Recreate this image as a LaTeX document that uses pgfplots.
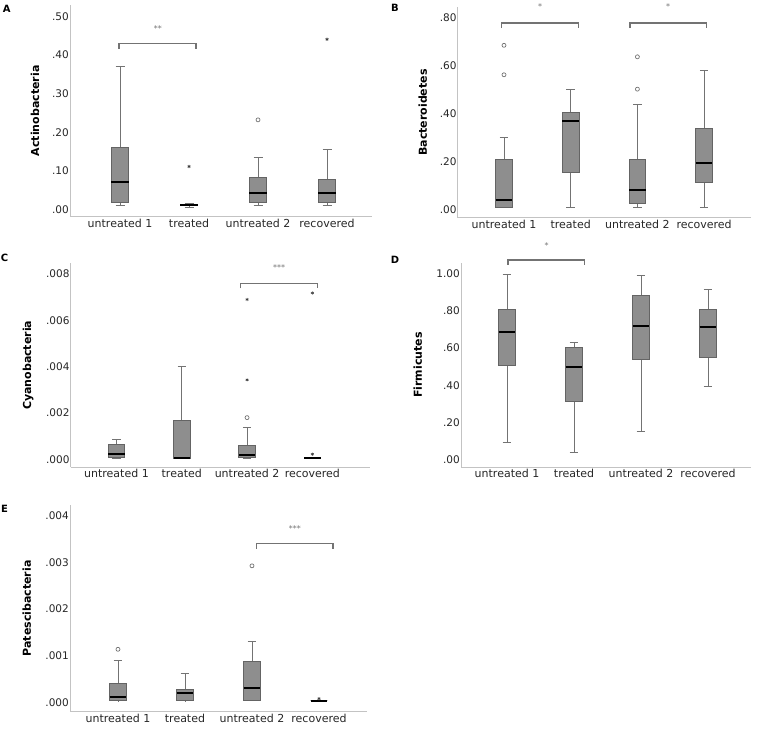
\documentclass[border=0pt]{standalone}
\usepackage{fontspec}
\setmainfont{DejaVu Sans}
\usepackage{pgfplots}
\pgfplotsset{compat=1.18}
\usepgfplotslibrary{statistics}

\definecolor{boxfill}{RGB}{142,142,142}
\definecolor{boxline}{RGB}{100,100,100}
\definecolor{whisk}{RGB}{115,115,115}
\definecolor{axisgray}{RGB}{195,195,195}

\tikzset{
  sig/.style={font=\fontsize{8}{8}\selectfont, text=black!55},
  letter/.style={font=\bfseries\fontsize{10}{10}\selectfont},
}

\pgfplotsset{
  spss/.style={
    anchor=south west,
    scale only axis,
    axis x line*=bottom, axis y line*=left,
    axis line style={axisgray, line width=1pt, -},
    major tick length=0pt,
    xtick={1,2,3,4},
    xticklabels={untreated 1, treated, untreated 2, recovered},
    xticklabel style={font=\fontsize{11}{13}\selectfont, text=black!85, inner ysep=2pt},
    yticklabel style={font=\fontsize{10.5}{12}\selectfont, text=black!85, inner xsep=1pt},
    clip=false,
    every axis y label/.style={rotate=90, anchor=center,
      font=\bfseries\fontsize{11}{13}\selectfont},
  },
  bx/.style={
    boxplot/draw direction=y,
    boxplot prepared={#1},
    boxplot/box extend=0.25,
    boxplot/whisker extend=0.13,
    solid, mark=none, draw=boxline, line width=0.8pt,
    boxplot/every box/.style={fill=boxfill, draw=boxline},
    boxplot/every whisker/.style={draw=whisk},
    boxplot/every median/.style={draw=black, line width=2pt},
  },
  circ/.style={only marks, mark=o, mark size=2pt, draw=whisk, line width=0.7pt},
  star/.style={only marks, mark=asterisk, mark size=1.6pt, draw=black!75, line width=0.6pt},
  brk/.style={draw=whisk, line width=1.2pt, mark=none},
}

\begin{document}
\begin{tikzpicture}
\useasboundingbox (0,0) rectangle (758pt,-730pt);

\node[letter] at (6.7pt,-9.3pt) {A};
\node[letter] at (395pt,-8.3pt) {B};
\node[letter] at (4.5pt,-258.3pt) {C};
\node[letter] at (395pt,-259.5pt) {D};
\node[letter] at (4.5pt,-509pt) {E};

% A: Actinobacteria
\begin{axis}[spss, at={(70pt,-216.7pt)}, width=302pt, height=211.7pt,
  xmin=0.275, xmax=4.652, ymin=-0.0192, ymax=0.530,
  ytick={0,0.1,0.2,0.3,0.4,0.5}, yticklabels={.00,.10,.20,.30,.40,.50},
  ylabel={Actinobacteria}, ylabel style={at={(axis description cs:-0.116,0.5)}}]
  \addplot[bx={draw position=1, lower whisker=0.009, lower quartile=0.018, median=0.070, upper quartile=0.160, upper whisker=0.371}] coordinates {};
  \addplot[bx={draw position=2, lower whisker=0.006, lower quartile=0.009, median=0.011, upper quartile=0.013, upper whisker=0.015}] coordinates {};
  \addplot[bx={draw position=3, lower whisker=0.009, lower quartile=0.018, median=0.043, upper quartile=0.082, upper whisker=0.135}] coordinates {};
  \addplot[bx={draw position=4, lower whisker=0.009, lower quartile=0.019, median=0.043, upper quartile=0.077, upper whisker=0.155}] coordinates {};
  \addplot[star] coordinates {(2,0.111) (4,0.441)};
  \addplot[circ] coordinates {(3,0.232)};
  \addplot[brk] coordinates {(0.986,0.416) (0.986,0.430) (2.10,0.430) (2.10,0.416)};
  \node[sig] at (axis cs:1.55,0.470) {**};
\end{axis}

% B: Bacteroidetes
\begin{axis}[spss, at={(457.7pt,-218pt)}, width=293.3pt, height=211pt,
  xmin=0.306, xmax=4.703, ymin=-0.036, ymax=0.845,
  ytick={0,0.2,0.4,0.6,0.8}, yticklabels={.00,.20,.40,.60,.80},
  ylabel={Bacteroidetes}, ylabel style={at={(axis description cs:-0.119,0.5)}}]
  \addplot[bx={draw position=1, lower whisker=0.008, lower quartile=0.010, median=0.038, upper quartile=0.209, upper whisker=0.302}] coordinates {};
  \addplot[bx={draw position=2, lower whisker=0.010, lower quartile=0.154, median=0.367, upper quartile=0.403, upper whisker=0.499}] coordinates {};
  \addplot[bx={draw position=3, lower whisker=0.008, lower quartile=0.025, median=0.081, upper quartile=0.209, upper whisker=0.437}] coordinates {};
  \addplot[bx={draw position=4, lower whisker=0.008, lower quartile=0.111, median=0.192, upper quartile=0.338, upper whisker=0.580}] coordinates {};
  \addplot[circ] coordinates {(1,0.685) (1,0.562) (3,0.637) (3,0.502)};
  \addplot[brk] coordinates {(0.966,0.757) (0.966,0.778) (2.12,0.778) (2.12,0.757)};
  \addplot[brk] coordinates {(2.89,0.757) (2.89,0.778) (4.03,0.778) (4.03,0.757)};
  \node[sig] at (axis cs:1.54,0.845) {*};
  \node[sig] at (axis cs:3.46,0.845) {*};
\end{axis}

% C: Cyanobacteria (values in units of 0.001)
\begin{axis}[spss, at={(70.7pt,-467.3pt)}, width=299.3pt, height=204pt,
  xmin=0.299, xmax=4.883, ymin=-0.345, ymax=8.462,
  ytick={0,2,4,6,8}, yticklabels={.000,.002,.004,.006,.008},
  ylabel={Cyanobacteria}, ylabel style={at={(axis description cs:-0.142,0.5)}}]
  \addplot[bx={draw position=1, lower whisker=0.05, lower quartile=0.08, median=0.25, upper quartile=0.65, upper whisker=0.87}] coordinates {};
  \addplot[bx={draw position=2, lower whisker=0.05, lower quartile=0.05, median=0.07, upper quartile=1.68, upper whisker=4.03}] coordinates {};
  \addplot[bx={draw position=3, lower whisker=0.05, lower quartile=0.08, median=0.18, upper quartile=0.62, upper whisker=1.38}] coordinates {};
  \addplot[bx={draw position=4, lower whisker=0.04, lower quartile=0.04, median=0.04, upper quartile=0.04, upper whisker=0.04}] coordinates {};
  \addplot[circ] coordinates {(3,1.8)};
  \addplot[star] coordinates {(3,6.9) (3,3.43) (4,0.22) (4,7.18)};
  \addplot[brk] coordinates {(2.90,7.38) (2.90,7.6) (4.08,7.6) (4.08,7.38)};
  \node[sig] at (axis cs:3.49,8.27) {***};
\end{axis}

% D: Firmicutes
\begin{axis}[spss, at={(461pt,-467.3pt)}, width=290pt, height=204.6pt,
  xmin=0.313, xmax=4.641, ymin=-0.043, ymax=1.061,
  ytick={0,0.2,0.4,0.6,0.8,1.0}, yticklabels={.00,.20,.40,.60,.80,1.00},
  ylabel={Firmicutes}, ylabel style={at={(axis description cs:-0.149,0.5)}}]
  \addplot[bx={draw position=1, lower whisker=0.092, lower quartile=0.509, median=0.687, upper quartile=0.811, upper whisker=1.0}] coordinates {};
  \addplot[bx={draw position=2, lower whisker=0.036, lower quartile=0.311, median=0.500, upper quartile=0.604, upper whisker=0.633}] coordinates {};
  \addplot[bx={draw position=3, lower whisker=0.151, lower quartile=0.540, median=0.719, upper quartile=0.885, upper whisker=0.990}] coordinates {};
  \addplot[bx={draw position=4, lower whisker=0.394, lower quartile=0.548, median=0.712, upper quartile=0.810, upper whisker=0.917}] coordinates {};
  \addplot[brk] coordinates {(1.015,1.049) (1.015,1.076) (2.16,1.076) (2.16,1.049)};
  \node[sig] at (axis cs:1.59,1.155) {*};
\end{axis}

% E: Patescibacteria (values in units of 0.001)
\begin{axis}[spss, at={(70pt,-711.7pt)}, width=296.7pt, height=206.7pt,
  xmin=0.284, xmax=4.712, ymin=-0.202, ymax=4.236,
  ytick={0,1,2,3,4}, yticklabels={.000,.001,.002,.003,.004},
  ylabel={Patescibacteria}, ylabel style={at={(axis description cs:-0.146,0.5)}}]
  \addplot[bx={draw position=1, lower whisker=0.03, lower quartile=0.035, median=0.114, upper quartile=0.408, upper whisker=0.893}] coordinates {};
  \addplot[bx={draw position=2, lower whisker=0.03, lower quartile=0.035, median=0.206, upper quartile=0.279, upper whisker=0.622}] coordinates {};
  \addplot[bx={draw position=3, lower whisker=0.03, lower quartile=0.043, median=0.307, upper quartile=0.887, upper whisker=1.316}] coordinates {};
  \addplot[bx={draw position=4, lower whisker=0.03, lower quartile=0.03, median=0.03, upper quartile=0.03, upper whisker=0.03}] coordinates {};
  \addplot[circ] coordinates {(1,1.138) (3,2.93)};
  \addplot[star] coordinates {(4,0.077)};
  \addplot[brk] coordinates {(3.07,3.30) (3.07,3.405) (4.21,3.405) (4.21,3.30)};
  \node[sig] at (axis cs:3.64,3.736) {***};
\end{axis}
\end{tikzpicture}
\end{document}
